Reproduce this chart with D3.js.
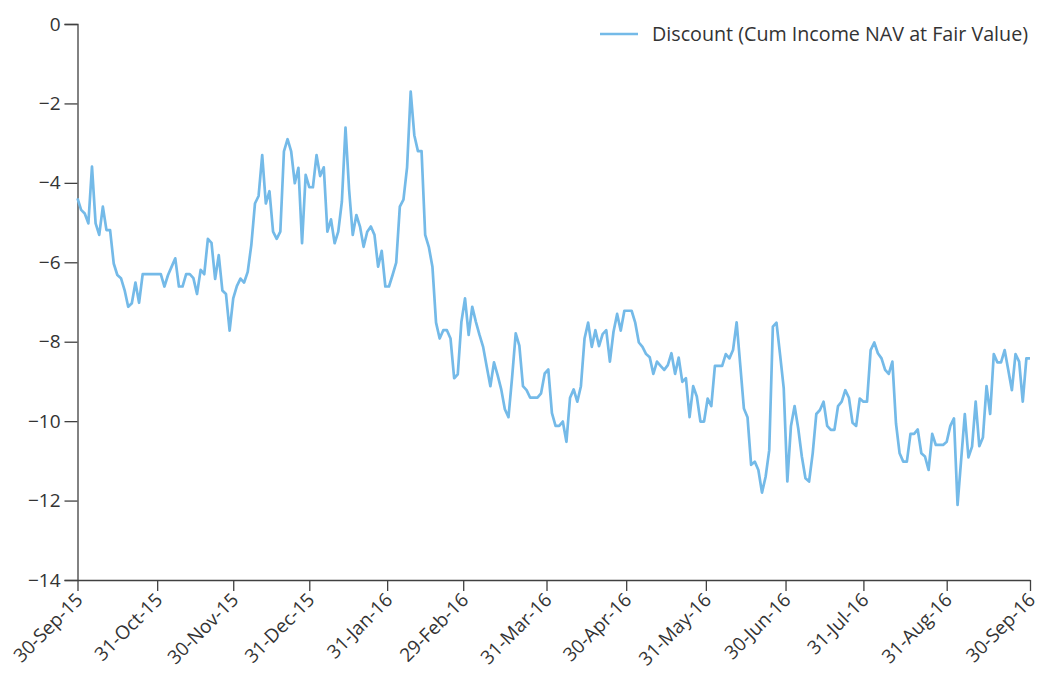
<!DOCTYPE html>
<html><head><meta charset="utf-8">
<script src="https://cdn.jsdelivr.net/npm/d3@7"></script>
<style>body{margin:0;background:#fff} text{font-family:"Open Sans",sans-serif}</style>
</head><body><svg id="c" width="1042" height="681"></svg>
<script>
// Daily (business-day) discount values
const discount = [
-4.39,-4.68,-4.77,-5.02,-3.59,-5.02,-5.31,-4.60,-5.19,-5.19,
-6.03,-6.32,-6.40,-6.70,-7.12,-7.03,-6.51,-7.02,-6.30,-6.30,
-6.30,-6.30,-6.30,-6.30,-6.61,-6.32,-6.11,-5.90,-6.61,-6.61,
-6.30,-6.30,-6.40,-6.80,-6.19,-6.30,-5.41,-5.51,-6.42,-5.82,
-6.71,-6.80,-7.72,-6.91,-6.60,-6.41,-6.51,-6.24,-5.56,-4.52,
-4.33,-3.30,-4.52,-4.21,-5.23,-5.41,-5.23,-3.21,-2.90,-3.21,
-4.01,-3.62,-5.52,-3.80,-4.11,-4.11,-3.30,-3.83,-3.61,-5.23,
-4.92,-5.52,-5.23,-4.47,-2.61,-4.18,-5.31,-4.81,-5.10,-5.61,
-5.23,-5.10,-5.31,-6.11,-5.71,-6.61,-6.61,-6.32,-6.01,-4.60,
-4.42,-3.61,-1.70,-2.80,-3.20,-3.20,-5.31,-5.61,-6.11,-7.52,
-7.92,-7.71,-7.71,-7.92,-8.92,-8.82,-7.50,-6.91,-7.83,-7.12,
-7.50,-7.83,-8.13,-8.63,-9.12,-8.52,-8.84,-9.20,-9.70,-9.90,
-8.90,-7.79,-8.10,-9.12,-9.22,-9.41,-9.41,-9.41,-9.30,-8.80,
-8.70,-9.80,-10.12,-10.12,-10.01,-10.52,-9.41,-9.20,-9.51,-9.12,
-7.92,-7.52,-8.13,-7.71,-8.11,-7.81,-7.71,-8.50,-7.75,-7.30,
-7.72,-7.22,-7.22,-7.22,-7.52,-8.02,-8.13,-8.31,-8.39,-8.81,
-8.50,-8.61,-8.71,-8.59,-8.29,-8.81,-8.40,-9.01,-8.92,-9.90,
-9.12,-9.38,-10.01,-10.01,-9.43,-9.62,-8.61,-8.61,-8.61,-8.31,
-8.42,-8.21,-7.51,-8.59,-9.68,-9.90,-11.10,-11.02,-11.23,-11.80,
-11.40,-10.73,-7.62,-7.52,-8.33,-9.17,-11.52,-10.12,-9.62,-10.18,
-10.89,-11.44,-11.52,-10.81,-9.82,-9.72,-9.51,-10.12,-10.22,-10.22,
-9.62,-9.51,-9.22,-9.41,-10.04,-10.12,-9.43,-9.51,-9.51,-8.21,
-8.02,-8.29,-8.42,-8.71,-8.81,-8.50,-10.06,-10.81,-11.02,-11.02,
-10.32,-10.32,-10.21,-10.81,-10.89,-11.23,-10.32,-10.60,-10.60,-10.60,
-10.52,-10.12,-9.93,-12.11,-10.96,-9.82,-10.91,-10.64,-9.51,-10.63,
-10.41,-9.12,-9.82,-8.31,-8.52,-8.52,-8.21,-8.71,-9.22,-8.31,
-8.50,-9.51,-8.42,-8.42
];
const tickLabels = ["30-Sep-15","31-Oct-15","30-Nov-15","31-Dec-15","31-Jan-16","29-Feb-16","31-Mar-16","30-Apr-16","31-May-16","30-Jun-16","31-Jul-16","31-Aug-16","30-Sep-16"];
const tickIndex = [0,22,43,64,85.5,106.5,129.5,151.5,173.5,195.5,217,240,263];
const yTicks = [0,-2,-4,-6,-8,-10,-12,-14];
const seriesName = "Discount (Cum Income NAV at Fair Value)";

const svg = d3.select("#c");
const m = {left:77.5, right:1030, top:24, bottom:580};
const x = d3.scaleLinear().domain([0, discount.length-1]).range([m.left, m.right]);
const y = d3.scaleLinear().domain([-14, 0]).range([m.bottom, m.top]);
const axisColor = "#404040", textColor = "#333";
const minus = d => (d < 0 ? "\u2212" : "") + Math.abs(d);

// Y axis
const ya = svg.append("g").attr("transform",`translate(${m.left},0)`)
  .call(d3.axisLeft(y).tickValues(yTicks).tickSize(13).tickPadding(4).tickFormat(minus));
ya.select(".domain").attr("stroke",axisColor).attr("stroke-width",1.3);
ya.selectAll(".tick line").attr("stroke",axisColor).attr("stroke-width",1.3);
ya.selectAll(".tick text").attr("fill",textColor).style("font-size","19px");

// X axis
const xa = svg.append("g").attr("transform",`translate(0,${m.bottom})`)
  .call(d3.axisBottom(x).tickValues(tickIndex).tickSize(11).tickSizeOuter(0)
    .tickFormat((d,i)=>tickLabels[i]));
xa.select(".domain").attr("stroke",axisColor).attr("stroke-width",1.3);
xa.selectAll(".tick line").attr("stroke",axisColor).attr("stroke-width",1.3);
xa.selectAll(".tick text").attr("fill",textColor).style("font-size","19px")
  .attr("text-anchor","end").attr("dy",null).attr("y",null)
  .attr("transform","translate(6,21) rotate(-45)");

// Line
const line = d3.line().x((d,i)=>x(i)).y(d=>y(d));
svg.append("path").datum(discount).attr("d",line)
  .attr("fill","none").attr("stroke","#74bae8").attr("stroke-width",2.7)
  .attr("stroke-linejoin","round");

// Legend
const lg = svg.append("g");
lg.append("line").attr("x1",600).attr("x2",638).attr("y1",34).attr("y2",34)
  .attr("stroke","#74bae8").attr("stroke-width",2.7);
lg.append("text").attr("x",652).attr("y",41).attr("fill",textColor)
  .attr("textLength",376).attr("lengthAdjust","spacingAndGlyphs")
  .style("font-size","19.5px").text(seriesName);
</script></body></html>
